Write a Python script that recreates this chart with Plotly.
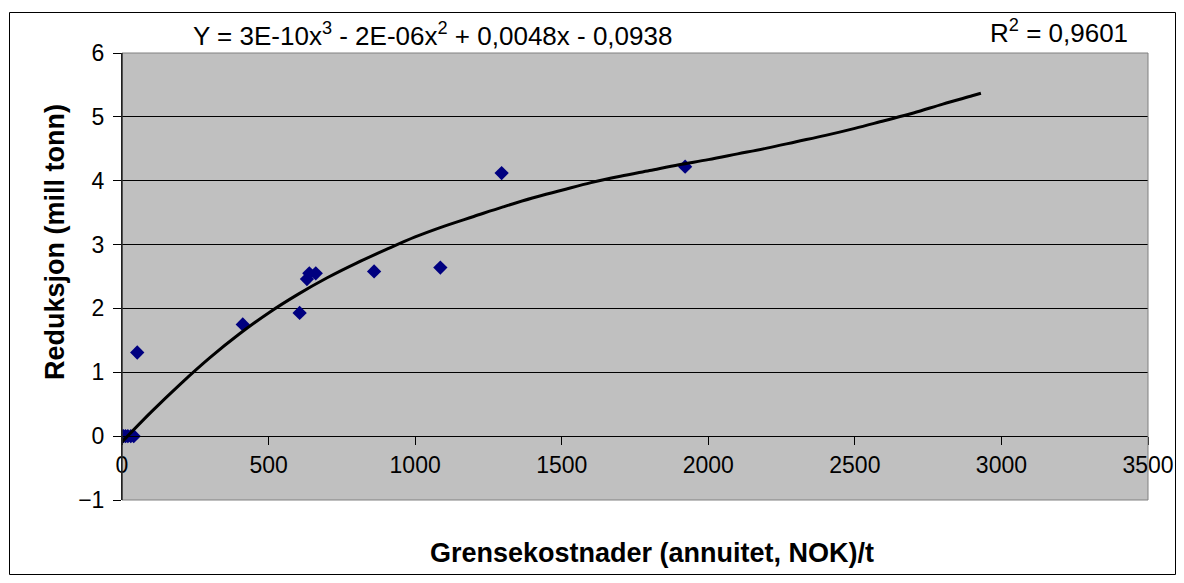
import plotly.graph_objects as go

# ---- data ----
cost_x = [0, 5, 12, 20, 30, 40, 52, 412, 606, 631, 639, 661, 860, 1086, 1295, 1921]
reduction_y = [0, 0, 0, 0, 0, 0, 1.31, 1.75, 1.93, 2.46, 2.55, 2.55, 2.58, 2.64, 4.12, 4.22]

trend_x = [0, 100, 200, 300, 400, 500, 600, 700, 800, 900, 1000, 1100, 1200, 1300,
           1400, 1500, 1600, 1700, 1800, 1900, 2000, 2100, 2200, 2300, 2400, 2500,
           2600, 2700, 2800, 2900, 2930]
trend_y = [-0.09, 0.38, 0.82, 1.23, 1.6, 1.93, 2.22, 2.48, 2.71, 2.92, 3.12, 3.29,
           3.44, 3.59, 3.73, 3.85, 3.97, 4.07, 4.16, 4.25, 4.33, 4.42, 4.51, 4.61,
           4.71, 4.82, 4.94, 5.06, 5.2, 5.33, 5.37]

y_ticks = [-1, 0, 1, 2, 3, 4, 5, 6]
x_ticks = [0, 500, 1000, 1500, 2000, 2500, 3000, 3500]

equation_text = "Y = 3E-10x<sup>3</sup> - 2E-06x<sup>2</sup> + 0,0048x - 0,0938"
r2_text = "R<sup>2</sup> = 0,9601"
x_title = "Grensekostnader (annuitet, NOK)/t"
y_title = "Reduksjon (mill tonn)"

# ---- layout geometry (pixels, page offset of 8px by body margin) ----
OFF = 8
W, H = 1184 - 2 * OFF, 583 - 2 * OFF
PLOT_L, PLOT_R, PLOT_T, PLOT_B = 122, 1148, 53, 500   # in page pixels
L = PLOT_L - OFF
T = PLOT_T - OFF
R = W - (PLOT_R - OFF)
B = H - (PLOT_B - OFF)
PW, PH = PLOT_R - PLOT_L, PLOT_B - PLOT_T
FONT = "Liberation Sans, Arial, sans-serif"


def px(x):
    return (x - PLOT_L) / PW


def py(y):
    return (PLOT_B - y) / PH


fig = go.Figure()
fig.add_trace(go.Scatter(
    x=cost_x, y=reduction_y, mode="markers",
    marker=dict(symbol="diamond", size=11, color="#000080",
                line=dict(width=0)),
    showlegend=False, hoverinfo="x+y"))
fig.add_trace(go.Scatter(
    x=trend_x, y=trend_y, mode="lines",
    line=dict(color="black", width=3, shape="spline"),
    showlegend=False, hoverinfo="skip"))

fig.update_layout(
    width=W, height=H,
    margin=dict(l=L, r=R, t=T, b=B, pad=0),
    paper_bgcolor="white", plot_bgcolor="#C0C0C0",
    font=dict(family=FONT, size=23, color="black"),
    xaxis=dict(range=[0, 3500], tickvals=x_ticks, ticktext=[str(v) for v in x_ticks],
               showgrid=False, zeroline=False, showline=True, linecolor="black",
               linewidth=1, ticks="outside", ticklen=8, tickcolor="black",
               anchor="free", position=1 / 7, tickfont=dict(size=23),
               automargin=False, fixedrange=True),
    yaxis=dict(range=[-1, 6], tickvals=y_ticks, showgrid=True, gridcolor="black",
               gridwidth=1, zeroline=False, showline=True, linecolor="black",
               linewidth=1, ticks="outside", ticklen=8, tickcolor="black",
               ticklabelstandoff=4, tickfont=dict(size=23), automargin=False,
               fixedrange=True),
    shapes=[
        dict(type="rect", xref="paper", yref="paper", x0=0, x1=1, y0=0, y1=1,
             line=dict(color="#808080", width=1), layer="above"),
        dict(type="line", xref="paper", yref="paper", x0=0, x1=0, y0=0, y1=1,
             line=dict(color="black", width=1), layer="above"),
        dict(type="rect", xref="paper", yref="paper",
             x0=px(9.5), x1=px(1175.5), y0=py(574.5), y1=py(12.5),
             line=dict(color="black", width=1), layer="above"),
    ],
    annotations=[
        dict(text=equation_text, xref="paper", yref="paper", x=px(432), y=py(34),
             xanchor="center", yanchor="middle", showarrow=False,
             font=dict(size=26)),
        dict(text=r2_text, xref="paper", yref="paper", x=px(1059), y=py(32),
             xanchor="center", yanchor="middle", showarrow=False,
             font=dict(size=26)),
        dict(text="<b>" + x_title + "</b>", xref="paper", yref="paper",
             x=px(652), y=py(553), xanchor="center", yanchor="middle",
             showarrow=False, font=dict(size=27)),
        dict(text="<b>" + y_title + "</b>", xref="paper", yref="paper",
             x=px(55), y=py(242), xanchor="center", yanchor="middle",
             showarrow=False, textangle=-90, font=dict(size=27)),
    ],
)

fig.write_html("out.html")
